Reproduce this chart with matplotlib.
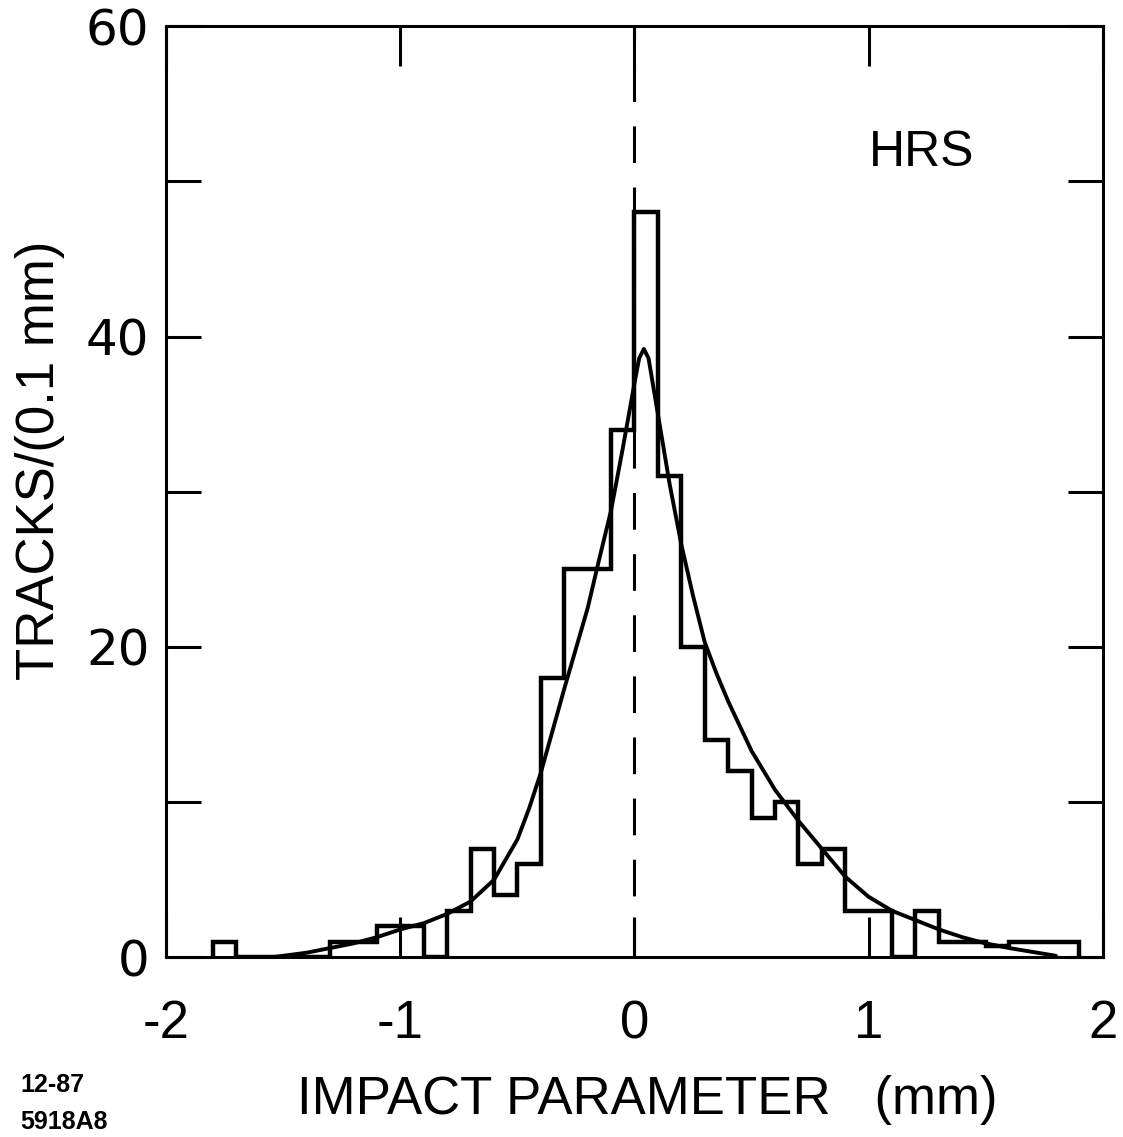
import matplotlib
matplotlib.use('Agg')
import matplotlib.pyplot as plt

# histogram: tracks per 0.1 mm bin
bin_edges = [-1.8, -1.7, -1.6, -1.5, -1.4, -1.3, -1.2, -1.1, -1.0, -0.9,
             -0.8, -0.7, -0.6, -0.5, -0.4, -0.3, -0.2, -0.1, 0.0, 0.1,
             0.2, 0.3, 0.4, 0.5, 0.6, 0.7, 0.8, 0.9, 1.0, 1.1,
             1.2, 1.3, 1.4, 1.5, 1.6, 1.7, 1.8, 1.9]
counts = [1, 0, 0, 0, 0, 1, 1, 2, 2, 0,
          3, 7, 4, 6, 18, 25, 25, 34, 48, 31,
          20, 14, 12, 9, 10, 6, 7, 3, 3, 0,
          3, 1, 1, 0.7, 1, 1, 1]

# fitted curve
fit_x = [-1.55, -1.4, -1.3, -1.2, -1.1, -1.0, -0.9, -0.8, -0.7, -0.6,
         -0.5, -0.45, -0.4, -0.35, -0.3, -0.25, -0.2, -0.15, -0.1, -0.05,
         0.0, 0.02, 0.04, 0.06, 0.1, 0.15, 0.2, 0.25, 0.3, 0.35,
         0.4, 0.5, 0.6, 0.7, 0.8, 0.9, 1.0, 1.1, 1.2, 1.3,
         1.4, 1.5, 1.6, 1.7, 1.8]
fit_y = [0.0, 0.3, 0.6, 0.9, 1.3, 1.8, 2.2, 2.8, 3.6, 5.0,
         7.6, 9.6, 11.9, 14.6, 17.3, 19.9, 22.5, 25.7, 28.8, 32.8,
         37.0, 38.6, 39.2, 38.6, 35.0, 30.5, 26.6, 23.3, 20.3, 18.3,
         16.5, 13.3, 10.8, 8.8, 7.0, 5.2, 3.9, 3.0, 2.4, 1.8,
         1.3, 0.9, 0.6, 0.35, 0.1]

x_ticks = [-2, -1, 0, 1, 2]
x_labels = ['-2', '-1', '0', '1', '2']
y_major = [0, 20, 40, 60]
y_minor = [10, 30, 50]

narrow = ['Liberation Sans Narrow', 'Liberation Sans', 'DejaVu Sans']

fig = plt.figure(figsize=(11.23, 11.37), dpi=100)
ax = fig.add_axes([0.148, 0.158, 0.834, 0.819])

ax.stairs(counts, bin_edges, color='black', lw=3.2)
ax.plot(fit_x, fit_y, color='black', lw=2.8, solid_capstyle='round',
        solid_joinstyle='round')
ax.axvline(0, color='black', lw=2.2, dashes=(12, 8))

ax.set_xlim(-2, 2)
ax.set_ylim(0, 60)

for s in ax.spines.values():
    s.set_linewidth(2.2)

ax.set_xticks(x_ticks)
ax.set_xticklabels(x_labels, family=narrow, fontsize=38)
ax.set_yticks(y_major)
ax.set_yticks(y_minor, minor=True)
ax.set_yticklabels([str(v) for v in y_major], family='DejaVu Sans', fontsize=36)
ax.tick_params(axis='x', which='both', direction='in', length=29, width=2.2,
               top=True, pad=30)
ax.tick_params(axis='y', which='both', direction='in', length=25, width=2.2,
               right=True, pad=12)

ax.text(0.807, 0.864, 'HRS', transform=ax.transAxes, ha='center', va='center',
        family=narrow, fontsize=36)

fig.text(647 / 1123, 1 - 1100 / 1137, 'IMPACT PARAMETER   (mm)',
         ha='center', va='center', family=narrow, fontsize=38)
fig.text(40 / 1123, 1 - 460 / 1137, 'TRACKS/(0.1 mm)', rotation=90,
         ha='center', va='center', family=narrow, fontsize=38)
fig.text(20 / 1123, 1 - 1085 / 1137, '12-87', ha='left', va='center',
         family=narrow, fontsize=18, fontweight='bold')
fig.text(20 / 1123, 1 - 1122 / 1137, '5918A8', ha='left', va='center',
         family=narrow, fontsize=18, fontweight='bold')

fig.savefig('out.png', dpi=100)
